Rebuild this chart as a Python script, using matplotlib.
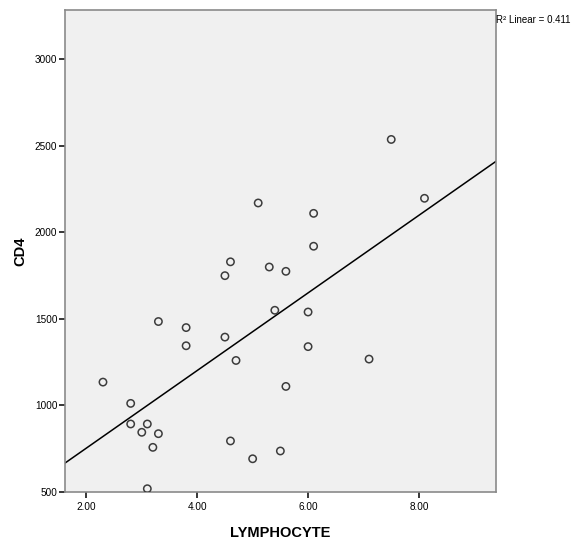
import matplotlib.pyplot as plt
import numpy as np

# values
lymphocyte = [5.1, 6.1, 6.1, 4.6, 4.5, 5.3, 5.6, 5.4, 6.0, 3.3,
              3.8, 4.5, 3.8, 6.0, 4.7, 2.3, 5.6, 2.8, 2.8, 3.1,
              3.0, 3.3, 3.2, 4.6, 5.0, 5.5, 3.1, 7.5, 8.1, 7.1]
cd4 = [2170, 2110, 1920, 1830, 1750, 1800, 1775, 1550, 1540, 1485,
       1450, 1395, 1345, 1340, 1260, 1135, 1110, 1012, 893, 893,
       845, 837, 758, 795, 692, 737, 519, 2537, 2197, 1268]
x_ticks = [2, 4, 6, 8]
y_ticks = [500, 1000, 1500, 2000, 2500, 3000]
r2_text = "R\u00b2 Linear = 0.411"

x = np.array(lymphocyte)
y = np.array(cd4)
slope, intercept = np.polyfit(x, y, 1)

font = "Liberation Sans"

fig = plt.figure(figsize=(5.82, 5.43), dpi=100)
ax = fig.add_axes([65 / 582, 1 - 492 / 543, 431 / 582, 482 / 543])
ax.set_facecolor("#f0f0f0")
for s in ax.spines.values():
    s.set_color("#8a8a8a")
    s.set_linewidth(1.2)

xlim = (1.615, 9.39)
ax.set_xlim(xlim)
ax.set_ylim(500, 3285)

xs = np.array(xlim)
ax.plot(xs, intercept + slope * xs, color="black", linewidth=1.1)
ax.scatter(x, y, s=28, facecolors="none", edgecolors="#3c3c3c",
           linewidths=1.1, zorder=3)

ax.set_xticks(x_ticks)
ax.set_xticklabels([f"{t:.2f}" for t in x_ticks], family=font, fontsize=7.2)
ax.set_yticks(y_ticks)
ax.set_yticklabels([str(t) for t in y_ticks], family=font, fontsize=7.2)
ax.tick_params(axis="both", direction="out", length=4.3, width=1.1, color="black")
ax.tick_params(axis="y", pad=1.2)
ax.tick_params(axis="x", pad=3)

ax.set_xlabel("LYMPHOCYTE", family=font, fontweight="bold", fontsize=10.5)
ax.xaxis.set_label_coords(0.5, -0.086)
ax.xaxis.label.set_va("center")
ax.set_ylabel("CD4", family=font, fontweight="bold", fontsize=10.5)
ax.yaxis.set_label_coords(-0.104, 0.5)
ax.yaxis.label.set_va("center")

ax.text(1.0, 0.979, r2_text, transform=ax.transAxes, family=font,
        fontsize=7, ha="left", va="center", clip_on=False)

fig.savefig("out.png", dpi=100)
